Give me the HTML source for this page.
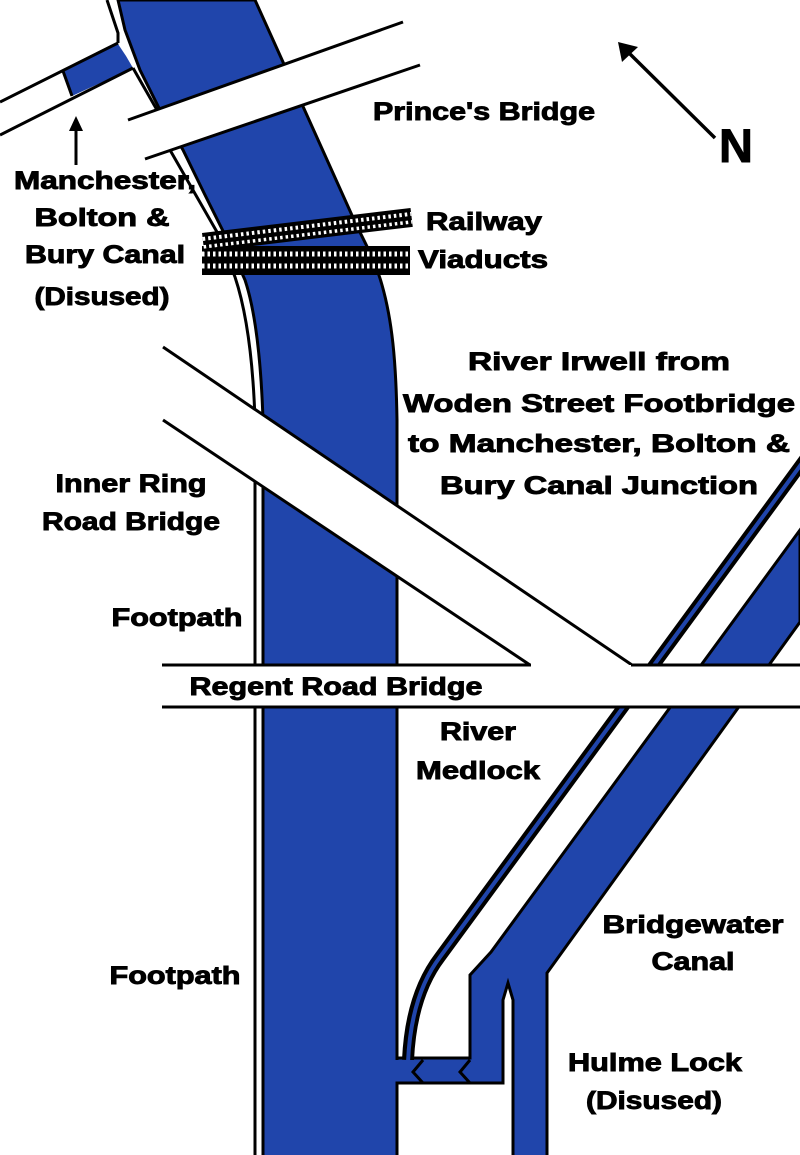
<!DOCTYPE html>
<html><head><meta charset="utf-8"><style>
html,body{margin:0;padding:0;background:#fff;}
svg{display:block;}
text{font-family:"Liberation Sans",Arial,sans-serif;font-weight:bold;fill:#000;stroke:#000;stroke-width:0.9px;}
</style></head><body>
<svg width="800" height="1155" viewBox="0 0 800 1155" xmlns="http://www.w3.org/2000/svg">
<rect width="800" height="1155" fill="#fff"/>
<!-- River Irwell -->
<path d="M118,0 L125,30 L140,70 L160,110 L183,150 L205,195 L225,235 L245,280 C255,310 261,360 263,420 L263,1160 L397,1160 L397,420 C396,360 392,320 382,285 C375,260 366,245 355,222 L283,62 L255,0 Z" fill="#2045ab" stroke="#000" stroke-width="3"/>
<!-- footpath outer line -->
<polyline points="107,0 113,18 118,33 118,43" fill="none" stroke="#000" stroke-width="3"/>
<polyline points="133,68 157,110" fill="none" stroke="#000" stroke-width="3"/>
<path d="M170,150 L217,232 L235,277 C246,310 253,360 255,420 L255,1160" fill="none" stroke="#000" stroke-width="3"/>
<!-- Canal top-left -->
<polygon points="63,72 118,44 126,56 133,68 72,96" fill="#2045ab"/>
<line x1="63" y1="71" x2="72" y2="96" stroke="#000" stroke-width="3"/>
<line x1="0" y1="102" x2="118" y2="43" stroke="#000" stroke-width="3"/>
<line x1="0" y1="135" x2="133" y2="68" stroke="#000" stroke-width="3"/>
<!-- Prince's Bridge -->
<polygon points="128,120 403,22 420,65 145,159" fill="#fff"/>
<line x1="128" y1="120" x2="403" y2="22" stroke="#000" stroke-width="3"/>
<line x1="145" y1="159" x2="420" y2="65" stroke="#000" stroke-width="3"/>
<!-- Railway viaducts -->
<g transform="translate(202,246)">
<rect x="0" y="0" width="208" height="29" fill="#000"/>
<line x1="0" y1="8" x2="208" y2="8" stroke="#fff" stroke-width="5" stroke-dasharray="2.5,3"/>
<line x1="0" y1="20" x2="208" y2="20" stroke="#fff" stroke-width="5" stroke-dasharray="2.5,3"/>
</g>
<g transform="translate(202,233) rotate(-6.85)">
<rect x="0" y="0" width="210" height="19" fill="#000"/>
<line x1="0" y1="6" x2="210" y2="6" stroke="#fff" stroke-width="4" stroke-dasharray="2.5,3"/>
<line x1="0" y1="14" x2="210" y2="14" stroke="#fff" stroke-width="3.5" stroke-dasharray="2.5,3"/>
</g>
<!-- Bridgewater canal + lock -->
<polygon points="800,530 491,952 470,975 470,1058 397,1058 397,1083 503,1083 503,1000 508,983 513,1000 513,1160 547,1160 547,973 800,622" fill="#2045ab" stroke="#000" stroke-width="3"/>
<!-- River Medlock -->
<path d="M808,455 L440,957 Q411,995 408,1060" fill="none" stroke="#000" stroke-width="12"/>
<path d="M808,455 L440,957 Q411,995 408,1062" fill="none" stroke="#2045ab" stroke-width="4"/>
<rect x="390" y="1060" width="30" height="21.5" fill="#2045ab"/>
<!-- lock gates -->
<polyline points="423,1060 413,1072 423,1083" fill="none" stroke="#000" stroke-width="3"/>
<polyline points="470,1060 460,1072 470,1083" fill="none" stroke="#000" stroke-width="3"/>
<!-- Inner Ring Road Bridge -->
<polygon points="163,347 632,665 530,665 163,420" fill="#fff"/>
<line x1="163" y1="347" x2="632" y2="665" stroke="#000" stroke-width="3"/>
<line x1="163" y1="420" x2="530" y2="665" stroke="#000" stroke-width="3"/>
<!-- Regent Road Bridge -->
<rect x="162" y="665" width="640" height="42" fill="#fff"/>
<line x1="162" y1="665" x2="531" y2="665" stroke="#000" stroke-width="3"/>
<line x1="631" y1="665" x2="800" y2="665" stroke="#000" stroke-width="3"/>
<line x1="162" y1="707" x2="800" y2="707" stroke="#000" stroke-width="3"/>
<!-- arrows -->
<line x1="76" y1="165" x2="76" y2="128" stroke="#000" stroke-width="3"/>
<polygon points="76,116 69,131 83,131" fill="#000"/>
<line x1="715" y1="138" x2="628" y2="52" stroke="#000" stroke-width="3.5"/>
<polygon points="618,42 622,62 638,47" fill="#000"/>
<!-- labels -->
<text x="484" y="120" font-size="25" text-anchor="middle" textLength="222" lengthAdjust="spacingAndGlyphs">Prince's Bridge</text>
<text x="736" y="162" font-size="47" text-anchor="middle">N</text>
<text x="105" y="189" font-size="25" text-anchor="middle" textLength="182" lengthAdjust="spacingAndGlyphs">Manchester,</text>
<text x="102" y="226" font-size="25" text-anchor="middle" textLength="135" lengthAdjust="spacingAndGlyphs">Bolton &amp;</text>
<text x="105" y="263" font-size="25" text-anchor="middle" textLength="160" lengthAdjust="spacingAndGlyphs">Bury Canal</text>
<text x="102" y="305" font-size="25" text-anchor="middle" textLength="135" lengthAdjust="spacingAndGlyphs">(Disused)</text>
<text x="484" y="230" font-size="25" text-anchor="middle" textLength="116" lengthAdjust="spacingAndGlyphs">Railway</text>
<text x="483" y="268" font-size="25" text-anchor="middle" textLength="130" lengthAdjust="spacingAndGlyphs">Viaducts</text>
<text x="599" y="370" font-size="25" text-anchor="middle" textLength="262" lengthAdjust="spacingAndGlyphs">River Irwell from</text>
<text x="599" y="412" font-size="25" text-anchor="middle" textLength="392" lengthAdjust="spacingAndGlyphs">Woden Street Footbridge</text>
<text x="599" y="452" font-size="25" text-anchor="middle" textLength="382" lengthAdjust="spacingAndGlyphs">to Manchester, Bolton &amp;</text>
<text x="599" y="494" font-size="25" text-anchor="middle" textLength="318" lengthAdjust="spacingAndGlyphs">Bury Canal Junction</text>
<text x="131" y="492" font-size="25" text-anchor="middle" textLength="151" lengthAdjust="spacingAndGlyphs">Inner Ring</text>
<text x="131" y="530" font-size="25" text-anchor="middle" textLength="178" lengthAdjust="spacingAndGlyphs">Road Bridge</text>
<text x="177" y="626" font-size="25" text-anchor="middle" textLength="131" lengthAdjust="spacingAndGlyphs">Footpath</text>
<text x="336" y="695" font-size="25" text-anchor="middle" textLength="293" lengthAdjust="spacingAndGlyphs">Regent Road Bridge</text>
<text x="478" y="740" font-size="25" text-anchor="middle" textLength="76" lengthAdjust="spacingAndGlyphs">River</text>
<text x="478" y="779" font-size="25" text-anchor="middle" textLength="124" lengthAdjust="spacingAndGlyphs">Medlock</text>
<text x="693" y="933" font-size="25" text-anchor="middle" textLength="181" lengthAdjust="spacingAndGlyphs">Bridgewater</text>
<text x="693" y="970" font-size="25" text-anchor="middle" textLength="83" lengthAdjust="spacingAndGlyphs">Canal</text>
<text x="175" y="984" font-size="25" text-anchor="middle" textLength="131" lengthAdjust="spacingAndGlyphs">Footpath</text>
<text x="655" y="1071" font-size="25" text-anchor="middle" textLength="174" lengthAdjust="spacingAndGlyphs">Hulme Lock</text>
<text x="654" y="1109" font-size="25" text-anchor="middle" textLength="136" lengthAdjust="spacingAndGlyphs">(Disused)</text>
</svg>
</body></html>
